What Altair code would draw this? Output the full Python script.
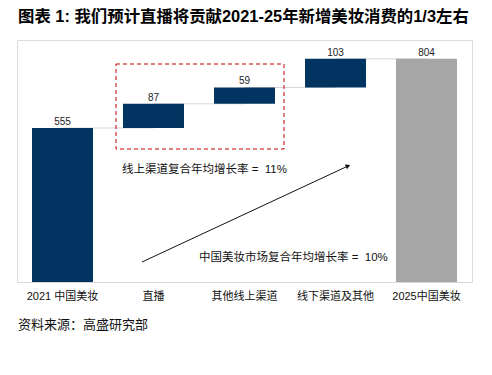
import altair as alt
import pandas as pd

categories = ["2021 中国美妆", "直播", "其他线上渠道", "线下渠道及其他", "2025中国美妆"]
values = [555, 87, 59, 103, 804]
kinds = ["total", "delta", "delta", "delta", "final"]

starts, ends = [], []
run = 0
for v, k in zip(values, kinds):
    if k == "delta":
        starts.append(run)
        run += v
        ends.append(run)
    else:
        starts.append(0)
        ends.append(v)
        run = v

df = pd.DataFrame({"cat": categories, "start": starts, "end": ends,
                   "label": [str(v) for v in values], "kind": kinds})
rows = []
for i in range(len(categories) - 1):
    rows.append({"cat": categories[i], "level": ends[i], "seg": i})
    rows.append({"cat": categories[i + 1], "level": ends[i], "seg": i})
conn = pd.DataFrame(rows)

FONT = "Liberation Sans, Noto Sans CJK SC, sans-serif"
W, H = 455, 242

xscale = alt.Scale(domain=categories, paddingInner=0.33, paddingOuter=0.165)
yscale = alt.Scale(domain=[0, 872])

xaxis = alt.Axis(title=None, labelAngle=0, ticks=False, domainColor="#d9d9d9",
                 labelFont=FONT, labelFontSize=11, labelColor="#111",
                 labelPadding=8, grid=False)

connectors = alt.Chart(conn).mark_line(color="#d6d6d6", strokeWidth=1).encode(
    x=alt.X("cat:N", scale=xscale, axis=xaxis),
    y=alt.Y("level:Q", scale=yscale, axis=None),
    detail="seg:N",
)

bars = alt.Chart(df).mark_bar().encode(
    x=alt.X("cat:N", scale=xscale, axis=xaxis),
    y=alt.Y("start:Q", scale=yscale, axis=None),
    y2="end:Q",
    color=alt.Color("kind:N", scale=alt.Scale(domain=["total", "delta", "final"],
                                              range=["#023461", "#023461", "#a6a6a6"]),
                    legend=None),
)

labels = alt.Chart(df).mark_text(font=FONT, fontSize=10, color="#222", dy=-6).encode(
    x=alt.X("cat:N", scale=xscale, axis=xaxis),
    y=alt.Y("end:Q", scale=yscale, axis=None),
    text="label:N",
)

one = pd.DataFrame({"a": [0]})

box = alt.Chart(one).mark_rect(
    fillOpacity=0, stroke="#C00000", strokeWidth=1, strokeDash=[4, 3]
).encode(x=alt.value(99), x2=alt.value(267), y=alt.value(24), y2=alt.value(109))

arrow_line = alt.Chart(one).mark_rule(color="#111", strokeWidth=1).encode(
    x=alt.value(125), x2=alt.value(331), y=alt.value(222), y2=alt.value(126))
arrow_head = alt.Chart(one).mark_point(
    shape="triangle-up", filled=True, color="#111", size=28, angle=65, opacity=1
).encode(x=alt.value(331), y=alt.value(126))

note1 = alt.Chart(one).mark_text(
    font=FONT, fontSize=11.5, color="#111", align="left", baseline="middle",
    text="线上渠道复合年均增长率 =\u00a0\u00a011%"
).encode(x=alt.value(105), y=alt.value(130))
note2 = alt.Chart(one).mark_text(
    font=FONT, fontSize=11.5, color="#111", align="left", baseline="middle",
    text="中国美妆市场复合年均增长率 =\u00a0\u00a010%"
).encode(x=alt.value(182), y=alt.value(218))

title = alt.Chart(one).mark_text(
    font=FONT, fontSize=16.4, fontWeight="bold", color="#000", align="left", baseline="middle",
    text="图表 1: 我们预计直播将贡献2021-25年新增美妆消费的1/3左右"
).encode(x=alt.value(1), y=alt.value(-23))
source = alt.Chart(one).mark_text(
    font=FONT, fontSize=13, color="#111", align="left", baseline="middle",
    text="资料来源：高盛研究部"
).encode(x=alt.value(1), y=alt.value(285))

chart = alt.layer(connectors, bars, labels, box, arrow_line, arrow_head, note1, note2, title, source).properties(
    width=W, height=H,
    autosize=alt.AutoSizeParams(type="none"),
    padding={"left": 9, "top": 32, "right": 12, "bottom": 80},
).configure_view(stroke=None).configure(background="white")

chart.save("out.html", embed_options={"renderer": "svg", "actions": False})
